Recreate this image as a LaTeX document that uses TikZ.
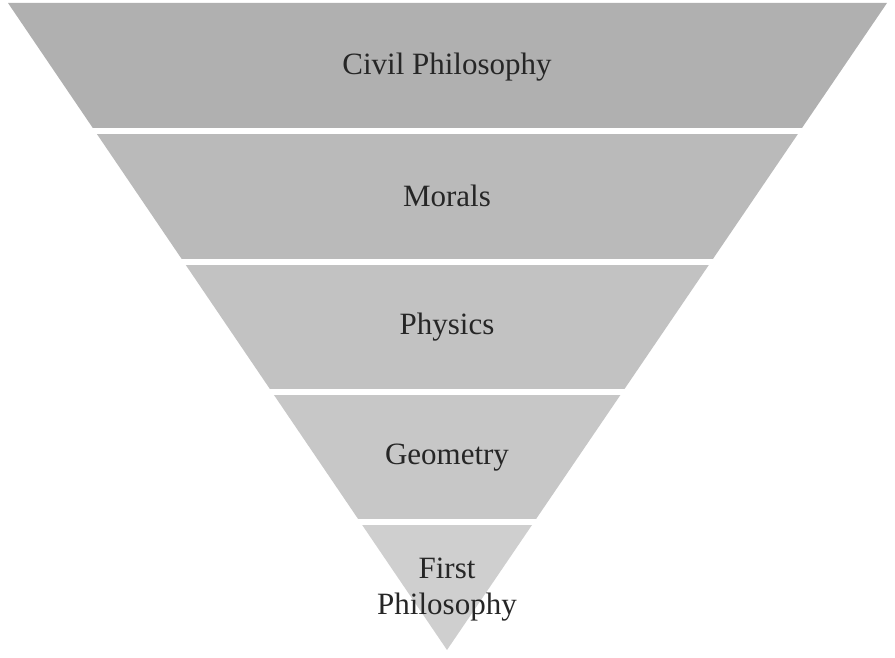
\documentclass[tikz,border=0pt]{standalone}
\usepackage{fontspec}
\setmainfont{Liberation Serif}
\begin{document}
\begin{tikzpicture}[x=1pt,y=-1pt,
  lbl/.style={font=\fontsize{31}{38}\selectfont, text=black!85, align=center, inner sep=0pt}]
\useasboundingbox (0,0) rectangle (895,658);
\begin{scope}
\clip (8,3) -- (887,3) -- (447,650) -- cycle;
\fill[black!31] (0,0) rectangle (895,128);
\fill[black!27] (0,134) rectangle (895,259);
\fill[black!24] (0,265) rectangle (895,389);
\fill[black!22] (0,395) rectangle (895,519);
\fill[black!19] (0,525) rectangle (895,658);
\end{scope}
\node[lbl] (civil) at (447,67) {Civil Philosophy};
\node[lbl] (morals) at (447,196) {Morals};
\node[lbl] (physics) at (447,327) {Physics};
\node[lbl] (geometry) at (447,458) {Geometry};
\node[lbl] (first) at (447,568) {First};
\node[lbl] (philo) at (447,607) {Philosophy};
\end{tikzpicture}
\end{document}
